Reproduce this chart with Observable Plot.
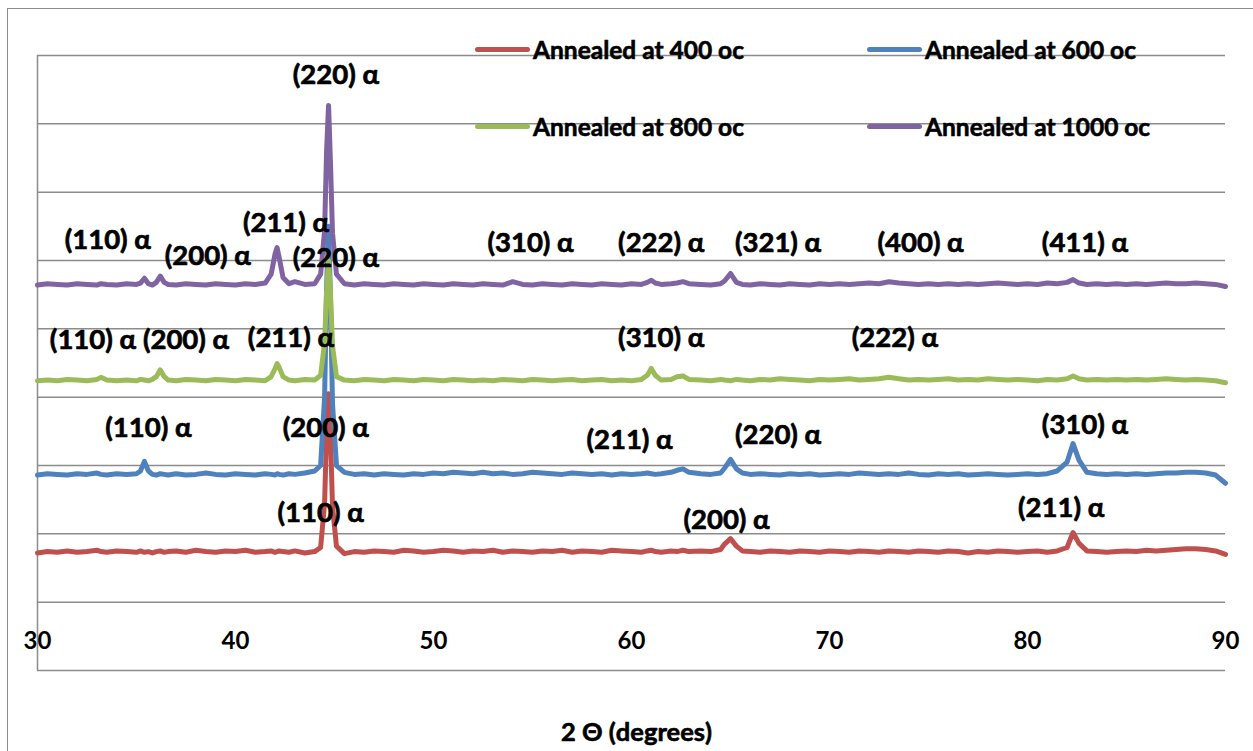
<!DOCTYPE html>
<html><head><meta charset="utf-8">
<script src="https://cdn.jsdelivr.net/npm/d3@7"></script>
<script src="https://cdn.jsdelivr.net/npm/@observablehq/plot@0.6"></script>
<style>
body{margin:0;background:#fff;font-family:Lato, sans-serif;}
#wrap{position:relative;width:1253px;height:751px;overflow:hidden;background:#fff;}
#wrap svg{position:absolute;left:0;top:0;}
#border{position:absolute;left:7px;top:8px;width:1270px;height:770px;border:1.5px solid #8c8c8c;box-sizing:border-box;}
.leg{position:absolute;display:flex;align-items:center;font:bold 24.5px Lato, sans-serif;color:#000;white-space:nowrap;height:20px;-webkit-text-stroke:0.6px #000;}
.sw{width:55px;height:5px;border-radius:3px;margin-right:3px;flex:none;}
</style></head><body><div id="wrap"><div id="border"></div></div>
<script>
// 2θ sample positions (degrees)
const twoTheta = [
  30, 30.5, 31, 31.5, 32, 32.5, 33, 33.2, 33.5, 34,
  34.5, 35, 35.2, 35.4, 35.6, 35.8, 36, 36.2, 36.4, 36.6,
  37, 37.5, 38, 38.5, 39, 39.5, 40, 40.5, 41, 41.5,
  41.8, 42, 42.1, 42.2, 42.4, 42.7, 43, 43.5, 44, 44.3,
  44.5, 44.6, 44.7, 44.8, 44.9, 45.1, 45.5, 46, 46.5, 47,
  47.5, 48, 48.5, 49, 49.5, 50, 50.5, 51, 51.5, 52,
  52.5, 53, 53.5, 54, 54.5, 55, 55.5, 56, 56.5, 57,
  57.5, 58, 58.5, 59, 59.5, 60, 60.5, 60.8, 61, 61.2,
  61.5, 62, 62.3, 62.6, 62.9, 63.5, 64, 64.5, 64.7, 65,
  65.3, 65.6, 66, 66.5, 67, 67.5, 68, 68.5, 69, 69.5,
  70, 70.5, 71, 71.5, 72, 72.5, 73, 73.5, 74, 74.5,
  75, 75.5, 76, 76.5, 77, 77.5, 78, 78.5, 79, 79.5,
  80, 80.5, 81, 81.5, 82, 82.3, 82.6, 83, 83.5, 84,
  84.5, 85, 85.5, 86, 86.5, 87, 87.5, 88, 88.5, 89,
  89.5, 90
];
// intensity (offset, arbitrary units) per annealing temperature
const int400 = [
  172, 174, 173, 175, 173, 174, 176, 174, 173, 175,
  174, 173, 175, 173, 174, 172, 174, 175, 173, 174,
  175, 173, 176, 174, 173, 175, 174, 176, 173, 174,
  175, 173, 174, 175, 174, 173, 175, 172, 174, 180,
  245, 350, 405, 340, 240, 182, 171, 174, 173, 175,
  174, 173, 176, 175, 173, 174, 176, 175, 173, 175,
  174, 176, 173, 175, 174, 173, 175, 174, 176, 173,
  175, 174, 173, 176, 175, 174, 173, 175, 176, 174,
  173, 175, 174, 176, 174, 175, 174, 177, 185, 193,
  182, 175, 174, 173, 175, 174, 173, 175, 174, 173,
  175, 174, 173, 175, 174, 173, 175, 174, 173, 175,
  174, 173, 175, 174, 172, 174, 173, 175, 174, 173,
  174, 175, 173, 175, 180, 202, 186, 175, 174, 173,
  174, 175, 174, 176, 175, 176, 177, 178, 178, 177,
  175, 170
];
const int600 = [
  286, 288, 287, 286, 288, 287, 289, 287, 286, 288,
  287, 288, 292, 306, 292, 287, 286, 288, 287, 286,
  288, 286, 287, 289, 287, 286, 288, 287, 286, 288,
  287, 286, 288, 287, 286, 288, 287, 289, 292, 300,
  400, 560, 650, 540, 390, 300, 290, 287, 288, 286,
  288, 287, 286, 288, 287, 289, 288, 290, 289, 288,
  290, 288, 289, 287, 288, 290, 289, 288, 287, 289,
  288, 287, 288, 286, 288, 287, 288, 289, 288, 287,
  288, 290, 293, 295, 290, 288, 287, 289, 296, 309,
  295, 289, 287, 288, 287, 286, 288, 287, 288, 286,
  287, 288, 287, 289, 288, 287, 288, 287, 289, 287,
  286, 288, 287, 288, 286, 287, 288, 287, 286, 287,
  288, 287, 288, 292, 305, 332, 308, 290, 288, 287,
  288, 287, 288, 287, 288, 289, 289, 290, 290, 289,
  286, 274
];
const int800 = [
  424, 425, 424, 426, 425, 424, 426, 429, 425, 424,
  425, 424, 426, 425, 424, 426, 430, 440, 430, 425,
  424, 426, 425, 424, 426, 425, 424, 426, 425, 424,
  430, 442, 449, 444, 430, 425, 424, 426, 425, 432,
  480, 555, 600, 550, 475, 430, 425, 424, 426, 425,
  424, 426, 425, 424, 426, 425, 424, 426, 425, 424,
  425, 424, 426, 425, 424, 426, 425, 424, 425, 426,
  424, 425, 426, 424, 425, 424, 426, 432, 442, 432,
  425, 426, 430, 431, 426, 425, 424, 426, 425, 424,
  426, 425, 424, 426, 425, 427, 426, 425, 424, 426,
  425, 426, 427, 425, 426, 427, 429, 427, 425, 426,
  425, 426, 427, 425, 426, 425, 427, 426, 425, 426,
  425, 424, 426, 425, 427, 431, 427, 425, 426, 425,
  426, 425, 426, 425, 426, 427, 426, 425, 426, 425,
  424, 421
];
const int1000 = [
  564, 566, 565, 564, 566, 565, 564, 566, 565, 564,
  566, 565, 567, 574, 566, 564, 568, 577, 568, 565,
  564, 566, 565, 564, 566, 565, 564, 566, 565, 567,
  580, 610, 619, 605, 575, 566, 569, 565, 566, 580,
  644, 760, 827, 740, 640, 580, 566, 564, 566, 565,
  564, 566, 565, 564, 566, 565, 564, 566, 565, 564,
  566, 565, 564, 569, 565, 564, 566, 565, 564, 566,
  565, 564, 566, 565, 564, 566, 565, 568, 571, 567,
  565, 566, 567, 569, 566, 565, 564, 566, 570, 581,
  568, 565, 564, 566, 565, 564, 566, 565, 564, 566,
  565, 566, 565, 566, 567, 566, 569, 567, 566, 565,
  566, 565, 566, 565, 566, 565, 566, 567, 566, 565,
  566, 565, 567, 566, 568, 572, 567, 565, 566, 565,
  566, 565, 566, 565, 566, 567, 566, 566, 567, 566,
  565, 562
];
const seriesNames = ["Annealed at 400 oc", "Annealed at 600 oc", "Annealed at 800 oc", "Annealed at 1000 oc"];
const seriesColors = ["#C0504D", "#4F81BD", "#9BBB59", "#8064A2"];
// peak annotations
const peakText = [
  "(220) α",
  "(110) α", "(200) α", "(211) α", "(220) α", "(310) α", "(222) α", "(321) α", "(400) α", "(411) α",
  "(110) α", "(200) α", "(211) α", "(310) α", "(222) α",
  "(110) α", "(200) α", "(211) α", "(220) α", "(310) α",
  "(110) α", "(200) α", "(211) α"
];
const peakTextX = [
  45.07,
  33.55, 38.6, 42.55, 45.07, 54.9, 61.5, 67.4, 74.6, 82.9,
  32.8, 37.5, 42.8, 61.5, 73.3,
  35.6, 44.56, 59.9, 67.4, 82.9,
  44.3, 64.8, 81.7
];
const peakTextY = [
  871,
  629, 607, 654, 603, 626, 626, 626, 626, 626,
  483, 483, 487, 487, 486,
  354, 354, 337, 344, 359,
  230, 220, 237
];
const xTicks = [30, 40, 50, 60, 70, 80, 90];
const yGrid = [0, 100, 200, 300, 400, 500, 600, 700, 800, 900];
const xTitle = "2 Θ (degrees)";

const intensities = [int400, int600, int800, int1000];
const rows = intensities.flatMap((arr, s) => twoTheta.map((t, i) => ({t, v: arr[i], s: seriesNames[s]})));
const labels = peakText.map((txt, i) => ({txt, x: peakTextX[i], y: peakTextY[i]}));

const chart = Plot.plot({
  width: 1253, height: 751,
  marginLeft: 37, marginRight: 28, marginTop: 55, marginBottom: 81,
  x: {domain: [30, 90]},
  y: {domain: [0, 900], axis: null},
  color: {domain: seriesNames, range: seriesColors},
  style: {fontFamily: "Lato, sans-serif", background: "transparent", overflow: "visible"},
  marks: [
    Plot.ruleY(yGrid, {stroke: "#8c8c8c", strokeWidth: 1.5}),
    Plot.ruleX([30], {stroke: "#8c8c8c", strokeWidth: 1.5}),
    ...seriesNames.map(name => Plot.lineY(rows.filter(d => d.s === name), {
      x: "t", y: "v", stroke: "s", strokeWidth: 5, strokeLinejoin: "round", strokeLinecap: "round"
    })),
    Plot.text(labels, {x: "x", y: "y", text: "txt", fontSize: 27.5, fontWeight: "bold", fill: "#000", stroke: "#000", strokeWidth: 0.7}),
    Plot.axisX({ticks: xTicks, tickSize: 0, tickFormat: d => String(d), fontSize: 24, fontWeight: "bold", fill: "#000", stroke: "#000", strokeWidth: 0.6, dy: -48, label: null}),
    Plot.text([xTitle], {frameAnchor: "bottom", dy: 70, dx: 5, fontSize: 25.5, fontWeight: "bold", fill: "#000", stroke: "#000", strokeWidth: 0.6})
  ]
});
const wrap = document.getElementById("wrap");
wrap.appendChild(chart);

// legend (2x2, overlaid at the top of the plot area)
const legPos = [[475, 49], [867, 49], [475, 126], [867, 126]];
seriesNames.forEach((name, i) => {
  const d = document.createElement("div");
  d.className = "leg";
  d.style.left = legPos[i][0] + "px";
  d.style.top = (legPos[i][1] - 10) + "px";
  d.innerHTML = `<span class="sw" style="background:${seriesColors[i]}"></span><span>${name}</span>`;
  wrap.appendChild(d);
});
</script>
</body></html>
